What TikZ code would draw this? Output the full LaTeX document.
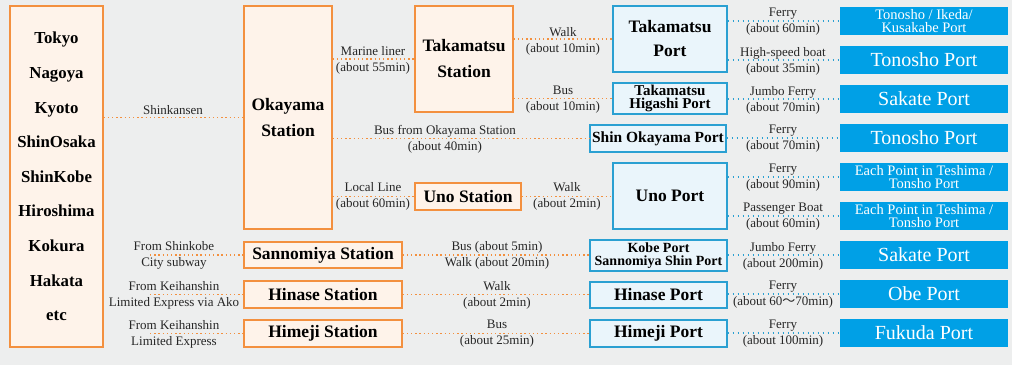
\documentclass[tikz,border=0pt]{standalone}
\usepackage{fontspec}
\setmainfont{Liberation Serif}
\newfontfamily\cjk{Noto Sans CJK JP}
\usepackage{tikz}
\usetikzlibrary{positioning}

\definecolor{bggray}{HTML}{EDEEEE}
\definecolor{orline}{HTML}{F3903F}
\definecolor{orfill}{HTML}{FEF3EA}
\definecolor{blline}{HTML}{2AA0D2}
\definecolor{blfill}{HTML}{EAF5FB}
\definecolor{bldest}{HTML}{00A0E6}

\begin{document}
\begin{tikzpicture}[x=1pt, y=-1pt,
    stn/.style={draw=orline, fill=orfill, line width=1.2pt, inner sep=0pt, align=center,
        font=\fontsize{17.5}{26}\selectfont\bfseries},
    port/.style={draw=blline, fill=blfill, line width=1.2pt, inner sep=0pt, align=center,
        font=\fontsize{17.5}{24}\selectfont\bfseries},
    dest/.style={fill=bldest, text=white, inner sep=0pt, minimum width=168pt, minimum height=28pt,
        align=center, font=\fontsize{20}{20}\selectfont},
    lbl/.style={inner sep=0pt, align=center, text=black!85, font=\fontsize{13}{16}\selectfont},
    oline/.style={draw=orline, line width=1.4pt, dash pattern=on 1.4pt off 2.8pt},
    bline/.style={draw=blline, line width=1.4pt, dash pattern=on 1.4pt off 3.6pt}]
    % background and page size
    \fill[bggray] (0,0) rectangle (1012,365);
    \useasboundingbox (0,0) rectangle (1012,365);

    % Departure cities
    \node (cities) at (56.5,176.5) [stn, minimum width=93pt, minimum height=341pt,
        font=\fontsize{16.8}{34.6}\selectfont\bfseries]
        {Tokyo\\Nagoya\\Kyoto\\ShinOsaka\\ShinKobe\\Hiroshima\\Kokura\\Hakata\\etc};

    % Stations
    \node (oka) at (288,117.5) [stn, minimum width=88pt, minimum height=223pt] {Okayama\\Station};
    \node (takst) at (464,59) [stn, minimum width=98pt, minimum height=106pt] {Takamatsu\\Station};
    \node (unost) at (468,196.5) [stn, minimum width=106pt, minimum height=27pt] {Uno Station};
    \node (sanst) at (323,255) [stn, minimum width=158pt, minimum height=26pt] {Sannomiya Station};
    \node (hinst) at (323,294.5) [stn, minimum width=158pt, minimum height=27pt] {Hinase Station};
    \node (himst) at (323,333.5) [stn, minimum width=158pt, minimum height=27pt] {Himeji Station};

    % Ports
    \node (takport) at (670,39) [port, minimum width=114pt, minimum height=66pt] {Takamatsu\\Port};
    \node (higport) at (670,98.5) [port, minimum width=114pt, minimum height=31pt,
        font=\fontsize{15}{13.5}\selectfont\bfseries] {Takamatsu\\Higashi Port};
    \node (shinport) at (658,138.5) [port, minimum width=136pt, minimum height=27pt,
        font=\fontsize{15.5}{16}\selectfont\bfseries] {Shin Okayama Port};
    \node (unoport) at (670,196) [port, minimum width=114pt, minimum height=66pt] {Uno Port};
    \node (kobeport) at (658.5,255.5) [port, minimum width=137pt, minimum height=31pt,
        font=\fontsize{14}{13.5}\selectfont\bfseries] {Kobe Port\\Sannomiya Shin Port};
    \node (hinport) at (658.5,295) [port, minimum width=137pt, minimum height=26pt] {Hinase Port};
    \node (himport) at (658.5,333.5) [port, minimum width=137pt, minimum height=27pt] {Himeji Port};

    % Destinations
    \node (d1) at (924,21) [dest, font=\fontsize{14.5}{13.5}\selectfont] {Tonosho / Ikeda/\\Kusakabe Port};
    \node (d2) at (924,60) [dest] {Tonosho Port};
    \node (d3) at (924,99) [dest] {Sakate Port};
    \node (d4) at (924,138) [dest] {Tonosho Port};
    \node (d5) at (924,177) [dest, font=\fontsize{14.5}{13.5}\selectfont] {Each Point in Teshima /\\Tonsho Port};
    \node (d6) at (924,216) [dest, font=\fontsize{14.5}{13.5}\selectfont] {Each Point in Teshima /\\Tonsho Port};
    \node (d7) at (924,255) [dest] {Sakate Port};
    \node (d8) at (924,294) [dest] {Obe Port};
    \node (d9) at (924,333) [dest] {Fukuda Port};

    % Feeder starts
    \coordinate (fsub) at (150,255);
    \coordinate (fako) at (150,294.5);
    \coordinate (flim) at (150,333.5);

    % Rail and bus links
    \draw[oline] (cities.east |- oka.west) -- (oka.west);
    \draw[oline] (oka.east |- takst.west) -- (takst.west);
    \draw[oline] (takst.east |- takport.west) -- (takport.west);
    \draw[oline] (takst.east |- higport.west) -- (higport.west);
    \draw[oline] (oka.east |- shinport.west) -- (shinport.west);
    \draw[oline] (oka.east |- unost.west) -- (unost.west);
    \draw[oline] (unost.east) -- (unost.east -| unoport.west);
    \draw[oline] (fsub) -- (sanst.west);
    \draw[oline] (fako) -- (hinst.west);
    \draw[oline] (flim) -- (himst.west);
    \draw[oline] (sanst.east) -- (sanst.east -| kobeport.west);
    \draw[oline] (hinst.east) -- (hinst.east -| hinport.west);
    \draw[oline] (himst.east) -- (himst.east -| himport.west);

    % Sea links
    \draw[bline] (takport.east |- d1.west) -- (d1.west);
    \draw[bline] (takport.east |- d2.west) -- (d2.west);
    \draw[bline] (higport.east |- d3.west) -- (d3.west);
    \draw[bline] (shinport.east |- d4.west) -- (d4.west);
    \draw[bline] (unoport.east |- d5.west) -- (d5.west);
    \draw[bline] (unoport.east |- d6.west) -- (d6.west);
    \draw[bline] (kobeport.east |- d7.west) -- (d7.west);
    \draw[bline] (hinport.east |- d8.west) -- (d8.west);
    \draw[bline] (himport.east |- d9.west) -- (d9.west);

    % Link labels
    \node (lshink) at (173,110) [lbl] {Shinkansen};
    \node (lmar) at (373,60) [lbl] {Marine liner\\(about 55min)};
    \node (lwalk1) at (563,41) [lbl] {Walk\\(about 10min)};
    \node (lbus1) at (563,100) [lbl] {Bus\\(about 10min)};
    \node (lbus2) at (445,139) [lbl] {Bus from Okayama Station\\(about 40min)};
    \node (lloc) at (373,196.5) [lbl] {Local Line\\(about 60min)};
    \node (lwalk2) at (567,196.5) [lbl] {Walk\\(about 2min)};
    \node (lsub) at (174,255.5) [lbl] {From Shinkobe\\City subway};
    \node (lako) at (174,295) [lbl] {From Keihanshin\\Limited Express via Ako};
    \node (llim) at (174,334) [lbl] {From Keihanshin\\Limited Express};
    \node (lbus3) at (497,255.5) [lbl] {Bus (about 5min)\\Walk (about 20min)};
    \node (lwalk3) at (497,295) [lbl] {Walk\\(about 2min)};
    \node (lbus4) at (497,334) [lbl] {Bus\\(about 25min)};

    % Sea labels
    \node (s1) at (783,22) [lbl] {Ferry\\(about 60min)};
    \node (s2) at (783,61) [lbl] {High-speed boat\\(about 35min)};
    \node (s3) at (783,100) [lbl] {Jumbo Ferry\\(about 70min)};
    \node (s4) at (783,139) [lbl] {Ferry\\(about 70min)};
    \node (s5) at (783,178) [lbl] {Ferry\\(about 90min)};
    \node (s6) at (783,217) [lbl] {Passenger Boat\\(about 60min)};
    \node (s7) at (783,256) [lbl] {Jumbo Ferry\\(about 200min)};
    \node (s8) at (783,295) [lbl] {Ferry\\(about 60{\cjk ～}70min)};
    \node (s9) at (783,334) [lbl] {Ferry\\(about 100min)};
\end{tikzpicture}
\end{document}
